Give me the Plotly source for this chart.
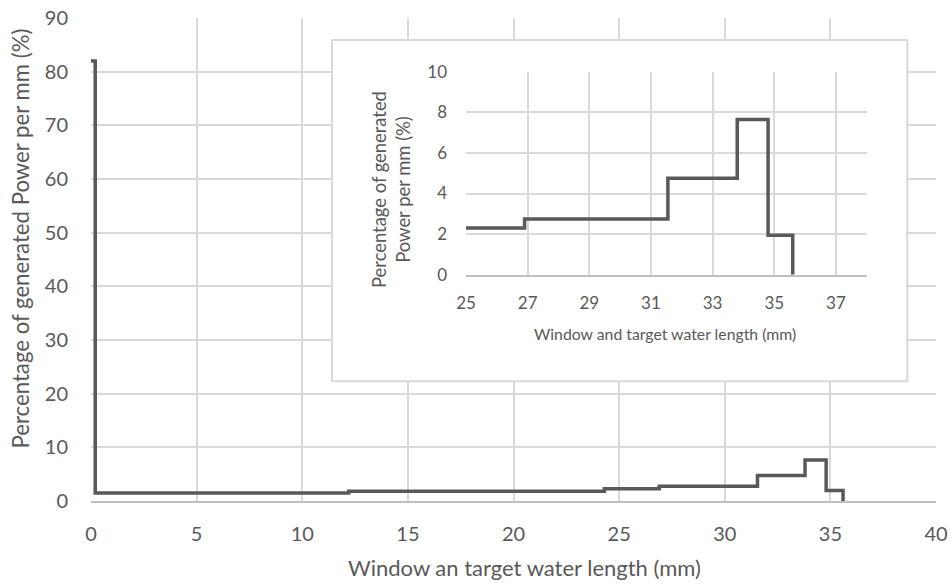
import plotly.graph_objects as go

# Step profile of generated power along the window + target water length
edge_mm = [0, 0.2, 12.2, 24.3, 26.9, 31.55, 33.8, 34.8, 35.6]
power_pct = [82, 1.5, 1.8, 2.3, 2.75, 4.75, 7.65, 1.95]

main_x_ticks = [0, 5, 10, 15, 20, 25, 30, 35, 40]
main_y_ticks = [0, 10, 20, 30, 40, 50, 60, 70, 80, 90]
inset_x_ticks = [25, 27, 29, 31, 33, 35, 37]
inset_y_ticks = [0, 2, 4, 6, 8, 10]

main_x_title = "Window an target water length (mm)"
main_y_title = "Percentage of generated Power per mm (%)"
inset_x_title = "Window and target water length (mm)"
inset_y_title = "Percentage of generated<br>Power per mm (%)"

# last edge closes the profile down to zero
step_x = edge_mm
step_y = power_pct + [0]

LINE = "#595959"
GRID = "#d9d9d9"
TEXT = "#595959"
FONT = "Lato"

fig = go.Figure()
for xa, ya in (("x", "y"), ("x2", "y2")):
    fig.add_trace(go.Scatter(
        x=step_x, y=step_y, mode="lines", line_shape="hv",
        line=dict(color=LINE, width=3.5), xaxis=xa, yaxis=ya,
        showlegend=False, hoverinfo="skip",
    ))

axis_common = dict(showgrid=True, gridcolor=GRID, gridwidth=1.5, zeroline=False,
                   ticks="", color=TEXT, automargin=False)

fig.update_layout(
    width=952, height=588,
    margin=dict(l=91, r=16, t=18, b=87),
    paper_bgcolor="white", plot_bgcolor="white",
    font=dict(family=FONT, color=TEXT),
    xaxis=dict(domain=[0, 1], range=[0, 40], tickvals=main_x_ticks,
               tickfont=dict(size=20), ticklabelstandoff=14,
               showline=True, linecolor="#bfbfbf", linewidth=1.5,
               **axis_common),
    yaxis=dict(domain=[0, 1], range=[0, 90], tickvals=main_y_ticks,
               tickfont=dict(size=20), ticklabelstandoff=22,
               **axis_common),
    xaxis2=dict(domain=[0.4438, 0.918], range=[25, 38], tickvals=inset_x_ticks,
                anchor="y2", tickfont=dict(size=17), ticklabelstandoff=12,
                showline=True, linecolor="#bfbfbf", linewidth=1.5,
                **axis_common),
    yaxis2=dict(domain=[0.4685, 0.8888], range=[0, 10], tickvals=inset_y_ticks,
                anchor="x2", tickfont=dict(size=17), ticklabelstandoff=18,
                **axis_common),
    # white frame behind the inset, above the main grid
    shapes=[dict(
        type="rect", xref="x", yref="y",
        x0=11.41, x1=38.64, y0=22.3, y1=85.9,
        fillcolor="white", line=dict(color=GRID, width=2), layer="between",
    )],
    annotations=[
        dict(text=main_x_title, xref="paper", yref="paper", x=0.5136, y=-0.1387,
             xanchor="center", yanchor="middle", showarrow=False,
             font=dict(size=22, color=TEXT)),
        dict(text=main_y_title, xref="paper", yref="paper", x=-0.084, y=0.5435,
             xanchor="center", yanchor="middle", textangle=-90, showarrow=False,
             font=dict(size=22.2, color=TEXT)),
        dict(text=inset_x_title, xref="paper", yref="paper", x=0.6793, y=0.3478,
             xanchor="center", yanchor="middle", showarrow=False,
             font=dict(size=15.8, color=TEXT)),
        dict(text=inset_y_title, xref="paper", yref="paper", x=0.355, y=0.646,
             xanchor="center", yanchor="middle", textangle=-90, showarrow=False,
             font=dict(size=18.4, color=TEXT)),
    ],
)

fig.write_html("out.html")
